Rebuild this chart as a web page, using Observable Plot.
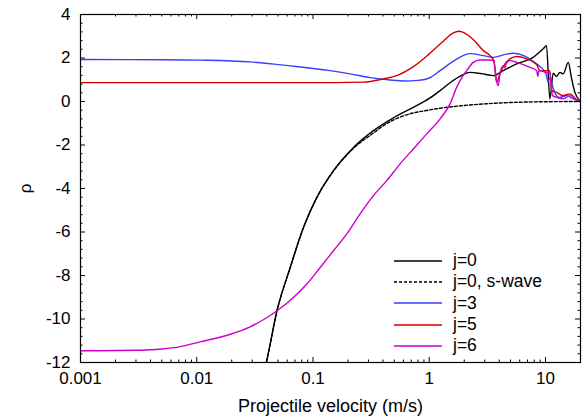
<!DOCTYPE html>
<html><head><meta charset="utf-8">
<script src="https://cdn.jsdelivr.net/npm/d3@7"></script>
<script src="https://cdn.jsdelivr.net/npm/@observablehq/plot@0.6"></script>
<style>
body{margin:0;background:#fff;}
#wrap{position:relative;width:582px;height:418px;font-family:"Liberation Sans",Arial,sans-serif;}
#legend{position:absolute;left:394px;top:250px;font-size:17.5px;color:#000;}
.row{display:flex;align-items:center;height:21.3px;white-space:nowrap;}
.row svg{width:48px;height:6px;margin-right:11px;}
</style></head><body><div id="wrap"><div id="legend"></div></div>
<script>
// ---- series meta ----
const seriesNames = ["j=0", "j=0, s-wave", "j=3", "j=5", "j=6"];
const seriesColors = ["#000000", "#000000", "#3c3cff", "#d40000", "#cc00cc"];
const seriesDash = [null, "3,2", null, null, null];

// ---- data (velocity m/s, rho) ----
const v_j0 = [0.037,0.0396,0.049,0.0637,0.0828,0.108,0.15,0.223,0.331,0.492,0.73,1.0,1.24,1.5,1.9,2.25,2.8,3.56,4.33,5.65,7.84,9.55,10.2,10.9,11.65,12.45,13.3,14.2,15.7,16.7,17.9,19.8];
const rho_j0 = [-12.6,-12,-9.62,-7.63,-5.79,-4.41,-3.18,-2.11,-1.34,-0.75,-0.27,0.14,0.5,0.85,1.2,1.34,1.28,1.19,1.42,1.73,2.03,2.42,2.57,0.12,1.3,1.15,1.34,1.27,1.8,1.1,0.42,0.04];

const v_j0s = [0.037,0.0396,0.049,0.0637,0.0828,0.108,0.15,0.223,0.331,0.42,0.6,1.0,1.93,3.7,7.3,19.8];
const rho_j0s = [-12.6,-12,-9.62,-7.63,-5.79,-4.41,-3.2,-2.15,-1.45,-1.05,-0.66,-0.39,-0.19,-0.08,-0.02,0.0];

const v_j3 = [0.001,0.005,0.0107,0.0288,0.0637,0.14,0.209,0.31,0.46,0.62,0.8,1.0,1.24,1.72,2.24,2.92,3.56,4.6,5.27,6.42,7.84,9.0,9.8,10.2,10.5,10.9,11.65,12.45,13.3,15.2,17.0,19.8];
const rho_j3 = [1.93,1.92,1.9,1.82,1.64,1.42,1.27,1.1,0.99,0.94,0.97,1.08,1.42,1.95,2.2,2.11,2.03,2.18,2.22,2.12,1.85,1.6,1.4,1.2,0.9,1.1,0.6,0.27,0.19,0.27,0.15,0.03];

const v_j5 = [0.001,0.05,0.15,0.272,0.404,0.526,0.73,1.0,1.32,1.61,1.78,1.96,2.39,2.92,3.33,3.6,3.8,4.06,4.33,4.94,5.65,6.89,8.39,8.96,10.9,11.3,12.45,14.2,16.2,19.1,19.8];
const rho_j5 = [0.87,0.87,0.87,0.89,1.04,1.19,1.6,2.19,2.77,3.15,3.23,3.18,2.85,2.34,2.11,1.88,0.9,1.27,1.6,1.96,2.07,1.96,1.7,1.42,1.42,0.5,0.42,0.27,0.35,0.02,0.0];

const v_j6 = [0.001,0.003,0.005,0.0072,0.0107,0.0195,0.0288,0.0402,0.049,0.0679,0.0886,0.1154,0.15,0.1953,0.254,0.331,0.431,0.561,0.73,0.951,1.24,1.51,1.72,1.96,2.1,2.39,2.73,3.33,3.56,3.67,3.8,3.93,4.06,4.33,4.48,4.6,4.94,5.65,7.35,8.39,8.6,8.75,10.2,10.9,11.5,12.45,14.2,16.2,19.1];
const rho_j6 = [-11.46,-11.44,-11.38,-11.27,-11.05,-10.7,-10.36,-9.93,-9.62,-9.01,-8.39,-7.63,-6.86,-6.09,-5.17,-4.33,-3.64,-2.87,-2.18,-1.49,-0.8,-0.11,0.65,1.2,1.42,1.8,1.91,1.91,1.88,1.57,0.9,0.73,1.3,1.65,1.55,1.75,1.88,1.8,1.57,1.42,1.15,1.42,1.34,1.3,0.27,0.19,0.12,0.27,0.02];

// ---- axes ----
const xTicks = [0.001, 0.01, 0.1, 1, 10];
const xTickLabels = ["0.001", "0.01", "0.1", "1", "10"];
const yTicks = [-12, -10, -8, -6, -4, -2, 0, 2, 4];
const yTickLabels = ["-12", "-10", "-8", "-6", "-4", "-2", "0", "2", "4"];
const xLabel = "Projectile velocity (m/s)";
const yLabel = "ρ";

const xDomain = [0.001, 20];
const yDomain = [-12, 4];

const seriesV = [v_j0, v_j0s, v_j3, v_j5, v_j6];
const seriesR = [rho_j0, rho_j0s, rho_j3, rho_j5, rho_j6];

const rows = [];
seriesNames.forEach((name, s) => {
  seriesV[s].forEach((v, i) => rows.push({series: name, v, rho: seriesR[s][i]}));
});

const xMinor = [];
for (const d of [0.001, 0.01, 0.1, 1, 10]) for (let k = 2; k <= 9; k++) { const t = d * k; if (t < xDomain[1]) xMinor.push(t); }
const yMinor = d3.range(-12, 4.0001, 0.4).filter(v => Math.abs(v / 2 - Math.round(v / 2)) > 1e-6);

const W = 582, H = 418, mL = 80, mR = 2, mT = 14, mB = 56;
const fW = W - mL - mR, fH = H - mT - mB;
const majLen = 5, minLen = 2.5;

const lineMarks = seriesNames.map((name, s) => Plot.line(rows.filter(r => r.series === name), {
  x: "v", y: "rho", stroke: seriesColors[s], strokeWidth: 1.4,
  strokeDasharray: seriesDash[s] || undefined, curve: "monotone-x", clip: true
}));

const chart = Plot.plot({
  width: W, height: H,
  marginLeft: mL, marginRight: mR, marginTop: mT, marginBottom: mB,
  style: {fontFamily: "'Liberation Sans', Arial, sans-serif", fontSize: "17px", color: "#000", background: "#fff"},
  x: {type: "log", domain: xDomain},
  y: {domain: yDomain},
  marks: [
    ...lineMarks,
    Plot.tickX(xTicks, {x: d => d, insetTop: fH - majLen, stroke: "#000"}),
    Plot.tickX(xTicks, {x: d => d, insetBottom: fH - majLen, stroke: "#000"}),
    Plot.tickX(xMinor, {x: d => d, insetTop: fH - minLen, stroke: "#000"}),
    Plot.tickX(xMinor, {x: d => d, insetBottom: fH - minLen, stroke: "#000"}),
    Plot.tickY(yTicks, {y: d => d, insetRight: fW - majLen, stroke: "#000"}),
    Plot.tickY(yTicks, {y: d => d, insetLeft: fW - majLen, stroke: "#000"}),
    Plot.tickY(yMinor, {y: d => d, insetRight: fW - minLen, stroke: "#000"}),
    Plot.tickY(yMinor, {y: d => d, insetLeft: fW - minLen, stroke: "#000"}),
    Plot.frame({stroke: "#000", strokeWidth: 1.2}),
    Plot.axisX({ticks: xTicks, tickSize: 0, tickPadding: 9, tickFormat: d => xTickLabels[xTicks.indexOf(d)], label: null}),
    Plot.axisX({ticks: [], label: xLabel, labelAnchor: "center", labelOffset: 49, labelArrow: "none", fontSize: 18}),
    Plot.axisY({ticks: yTicks, tickSize: 0, tickPadding: 10, tickFormat: d => yTickLabels[yTicks.indexOf(d)],
      label: yLabel, labelAnchor: "center", labelOffset: 62, labelArrow: "none"})
  ]
});
document.getElementById("wrap").prepend(chart);

const legend = document.getElementById("legend");
seriesNames.forEach((name, s) => {
  const row = document.createElement("div");
  row.className = "row";
  row.innerHTML = `<svg viewBox="0 0 48 6"><line x1="0" y1="3" x2="48" y2="3" stroke="${seriesColors[s]}" stroke-width="1.5" ${seriesDash[s] ? `stroke-dasharray="${seriesDash[s]}"` : ""}/></svg><span>${name}</span>`;
  legend.appendChild(row);
});
</script></body></html>
